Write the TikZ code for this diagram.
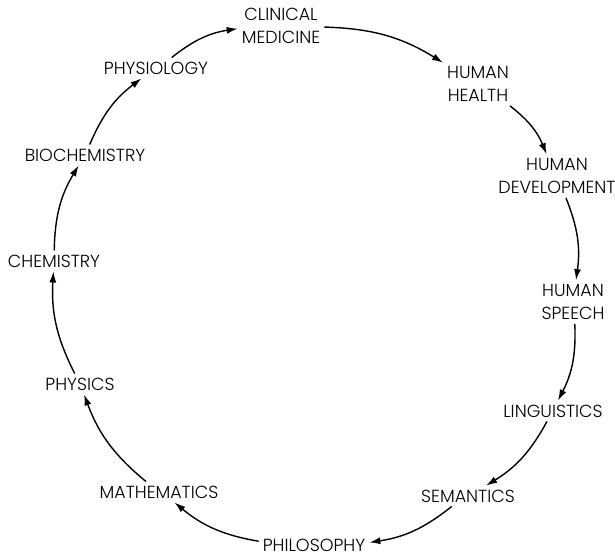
\documentclass[tikz,border=0pt]{standalone}
\usepackage{fontspec}
\setmainfont{Poppins}[UprightFont=* Light]
\usepackage{tikz}
\usetikzlibrary{arrows.meta,positioning,calc}
\tikzset{
field/.style = {align=center, inner sep=4pt, font=\fontsize{17.5}{23}\selectfont},
link/.style = {->, line width=1.4pt, bend left=15}
}

\begin{document}
\begin{tikzpicture}[x=1pt,y=1pt,>={Latex[length=11pt,width=7pt]}]
	\useasboundingbox (0,0) rectangle (615,556);
	\node[field] (clin) at (281,530) {CLINICAL\\MEDICINE};
	\node[field] (health) at (478,472) {HUMAN\\HEALTH};
	\node[field] (dev) at (557,380) {HUMAN\\DEVELOPMENT};
	\node[field] (speech) at (573,254) {HUMAN\\SPEECH};
	\node[field] (ling) at (553,145) {LINGUISTICS};
	\node[field] (sem) at (468,60) {SEMANTICS};
	\node[field] (phil) at (314,11) {PHILOSOPHY};
	\node[field] (math) at (159,64) {MATHEMATICS};
	\node[field] (phys) at (80,172) {PHYSICS};
	\node[field] (chem) at (54,295) {CHEMISTRY};
	\node[field] (bio) at (85,401) {BIOCHEMISTRY};
	\node[field] (physio) at (156,488) {PHYSIOLOGY};
	\draw[link] (clin) to (health);
	\draw[link] (health) to (dev);
	\draw[link] (dev) to (speech);
	\draw[link] (speech) to (ling);
	\draw[link] (ling) to (sem);
	\draw[link] (sem) to (phil);
	\draw[link] (phil) to (math);
	\draw[link] (math) to (phys);
	\draw[link] (phys) to (chem);
	\draw[link] (chem) to (bio);
	\draw[link] (bio) to (physio);
	\draw[link] (physio) to (clin);
\end{tikzpicture}
\end{document}
